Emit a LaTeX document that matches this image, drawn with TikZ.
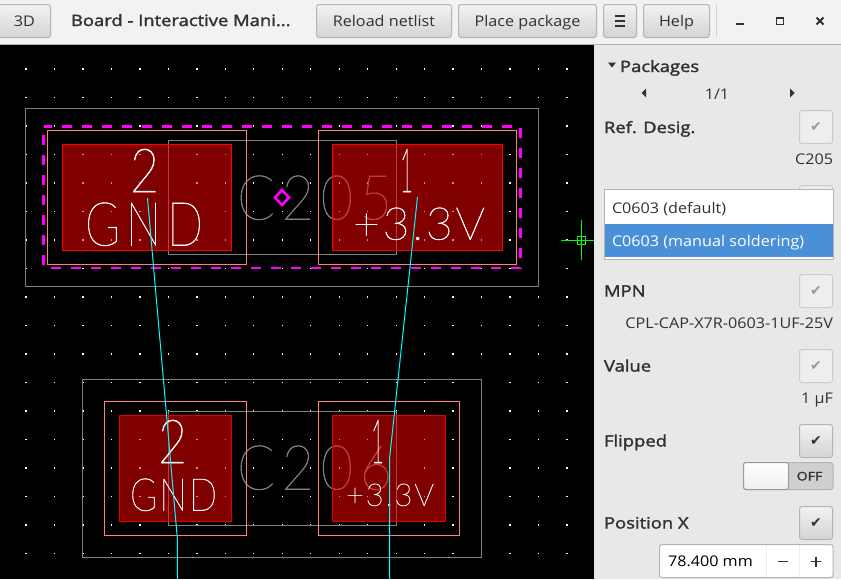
\documentclass[tikz,border=0pt]{standalone}
\usepackage{fontspec}
\setmainfont[FakeStretch=1.1]{Open Sans}
\newfontfamily\boldui[FakeBold=2,FakeStretch=1.18]{Open Sans}
\newfontfamily\thinfont[LetterSpace=12,FakeBold=.8]{Lato Hairline}
\newfontfamily\thinfontb[LetterSpace=6,FakeBold=1.1]{Lato Hairline}
\newfontfamily\thinfontc[FakeBold=1.4]{Lato Hairline}
\newfontfamily\symfont{DejaVu Sans}
\definecolor{ink}{HTML}{2E3436}
\definecolor{panelbg}{HTML}{E8E8E7}
\definecolor{barbg}{HTML}{F2F2F2}
\definecolor{btnline}{HTML}{B4B4B2}
\definecolor{padline}{HTML}{FF8080}
\definecolor{silk}{HTML}{808080}
\definecolor{sel}{HTML}{4A90D9}
\definecolor{purered}{HTML}{FF0000}
\definecolor{dimred}{HTML}{E00000}
\definecolor{puremag}{HTML}{FF00FF}
\definecolor{purecyan}{HTML}{00FFFF}
\definecolor{puregreen}{HTML}{00FF00}
\definecolor{C0}{HTML}{F2F2F1}
\definecolor{C1}{HTML}{D4D4D2}
\definecolor{C2}{HTML}{EEEEEE}
\definecolor{C3}{HTML}{CFCFCF}
\definecolor{C4}{HTML}{999999}
\tikzset{
  x=1pt,y=-1pt,
  every node/.style={inner sep=0pt,outer sep=0pt,text=ink},
  btn/.style={draw=btnline,line width=1pt,rounded corners=2.5pt,top color=C0,bottom color=C1},
  ui/.style={font=\fontsize{14.7}{17}\selectfont,anchor=base},
  uil/.style={font=\fontsize{14.7}{17}\selectfont,anchor=base west},
  uir/.style={font=\fontsize{14.7}{17}\selectfont,anchor=base east},
  hd/.style={font=\boldui\fontsize{15.6}{17}\selectfont,anchor=base west},
  offbtn/.style={draw=btnline!70!white,line width=1pt,rounded corners=2.5pt,fill=C2},
  chk/.style={font=\symfont\fontsize{14}{15}\selectfont},
  stroke/.style={anchor=south west,text=white},
  silktext/.style={anchor=south west,text=silk},
  outer/.style={draw=silk,line width=1pt},
  padout/.style={draw=padline,line width=1pt},
  padfill/.style={fill=purered,fill opacity=.5,draw=none},
  wire/.style={draw=purecyan,line width=1pt},
}
\newcommand{\strk}[3]{\resizebox{#1pt}{#2pt}{\thinfont #3}}
\newcommand{\strkb}[3]{\resizebox{#1pt}{#2pt}{\thinfontb #3}}
\newcommand{\strkc}[3]{\resizebox{#1pt}{#2pt}{\thinfontc #3}}
\begin{document}
\begin{tikzpicture}
\useasboundingbox (0,0) rectangle (841,579);
% backgrounds
\fill[black] (0,44) rectangle (594,579);
\fill[barbg] (0,0) rectangle (841,44);
\fill[panelbg] (594,45) rectangle (841,579);
\draw[color=btnline,line width=1.2pt] (0,44.2) -- (841,44.2);
% grid
\foreach \i in {0,...,19}{\foreach \j in {0,...,17}{
  \fill[white] ({26+\i*28.47-.6},{69+\j*28.5-.6}) rectangle ++(1.3,1.3);
}}
% grey layers
\node[outer,minimum width=513pt,minimum height=178pt,anchor=north west] (topouter) at (25.5,108.5) {};
\node[outer,minimum width=228pt,minimum height=114pt,anchor=north west] (topsilk) at (168.5,140.5) {};
\node[outer,minimum width=399pt,minimum height=177.5pt,anchor=north west] (botouter) at (82.5,379.5) {};
\node[outer,minimum width=228pt,minimum height=114pt,anchor=north west] (botsilk) at (168.5,411.5) {};
\node[silktext] (tref) at (237,220) {\strk{155}{44}{C205}};
\node[silktext] (bref) at (237,490) {\strk{155}{44}{C206}};
% pads
\fill[padfill] (62.5,144.5) rectangle (231.5,250.5);
\fill[padfill] (332.5,144.5) rectangle (502.7,250.5);
\fill[padfill] (119.5,415.5) rectangle (231.5,521.5);
\fill[padfill] (332.5,415.5) rectangle (445.7,521.5);
\draw[purered,line width=1pt] (62.5,144.5) rectangle (231.5,250.5);
\draw[purered,line width=1pt] (332.5,144.5) rectangle (502.7,250.5);
\draw[dimred,line width=1pt] (119.5,415.5) rectangle (231.5,521.5);
\draw[dimred,line width=1pt] (332.5,415.5) rectangle (445.7,521.5);
\draw[padout] (47.5,130.5) rectangle (246.5,264.5);
\draw[padout] (318.5,130.5) rectangle (516.5,264.5);
\draw[padout] (104.5,401.5) rectangle (246.5,535.5);
\draw[padout] (318.5,401.5) rectangle (459.7,535.5);
% stroke text
\node[stroke] (n2) at (130,192) {\strkc{29}{43}{2}};
\node[stroke] (gnd) at (85,246) {\strk{118}{43}{GND}};
\node[stroke] (n1) at (400,192) {\strkc{13}{43}{1}};
\node[stroke] (v33) at (353,240) {\strkb{132}{32}{+3.3V}};
\node[stroke] (bn2) at (158,463) {\strkc{29}{43}{2}};
\node[stroke] (bgnd) at (130,511) {\strkb{87}{32}{GND}};
\node[stroke] (bn1) at (371,463) {\strkc{13}{43}{1}};
\node[stroke] (bv33) at (346,506) {\strkb{88}{22}{+3.3V}};
% selection
\draw[puremag,line width=2.6pt,dash pattern=on 10pt off 10pt,dash phase=11.5pt] (43.5,126.5) rectangle (520.5,268);
\draw[puremag,line width=2.6pt] (282,190) -- (289,197.5) -- (282,205) -- (275,197.5) -- cycle;
% airwires
\coordinate (wa) at (147.5,198);
\coordinate (wb) at (177.3,538);
\coordinate (wc) at (177.3,579);
\coordinate (wd) at (417.5,197);
\coordinate (we) at (389.5,459);
\coordinate (wf) at (389.5,579);
\draw[wire] (wa) -- (wb) -- (wc);
\draw[wire] (wd) -- (we) -- (wf);
% crosshair
\draw[color=puregreen,line width=1pt] (561,240.5) -- (594,240.5) (581.5,220) -- (581.5,260);
\draw[color=puregreen,line width=1pt] (577.5,236.5) rectangle (585.5,244.5);
% toolbar
\node[btn,minimum width=53pt,minimum height=33pt,anchor=north west] (b3d) at (-2.5,4.5) {};
\node[ui] at (24.5,26) {3D};
\node[font=\boldui\fontsize{15.6}{17}\selectfont,anchor=base west] (title) at (71,26) {Board - Interactive Mani...};
\node[btn,minimum width=135pt,minimum height=33pt,anchor=north west] (breload) at (316.5,4.5) {};
\node[ui] at (breload.center |- 0,26) {Reload netlist};
\node[btn,minimum width=138pt,minimum height=33pt,anchor=north west] (bplace) at (458.5,4.5) {};
\node[ui] at (bplace.center |- 0,26) {Place package};
\node[btn,minimum width=33pt,minimum height=33pt,anchor=north west] (bmenu) at (603.5,4.5) {};
\draw[ink,line width=1.5pt] (615,16) -- (625,16) (615,21) -- (625,21) (615,26) -- (625,26);
\node[btn,minimum width=66pt,minimum height=33pt,anchor=north west] (bhelp) at (643.5,4.5) {};
\node[ui] at (bhelp.center |- 0,26) {Help};
\draw[color=btnline!60!white,line width=1pt] (716.5,4) -- (716.5,37);
\draw[ink,line width=1.8pt] (736,24) -- (744,24);
\draw[ink,line width=1.6pt] (776.5,18) rectangle (783.5,24.5);
\draw[ink,line width=1.8pt] (816.5,17.5) -- (823.5,24.5) (816.5,24.5) -- (823.5,17.5);
% panel
\fill[ink] (608,62.5) -- (616,62.5) -- (612,67.5) -- cycle;
\node[hd] (hpack) at (620,72) {Packages};
\fill[ink] (646,88.5) -- (646,97.5) -- (641.5,93) -- cycle;
\node[ui] (pg) at (717,99) {1/1};
\fill[ink] (790,88.5) -- (790,97.5) -- (794.5,93) -- cycle;
\node[hd] (href) at (604,133) {Ref. Desig.};
\node[offbtn,minimum width=33pt,minimum height=33pt,anchor=north west] (c1) at (799.5,110.5) {};
\node[chk,text=C4] at (c1) {✔};
\node[uir] (vref) at (833,164.5) {C205};
\node[offbtn,minimum width=33pt,minimum height=33pt,anchor=north west] (c2) at (799.5,185.5) {};
% dropdown
\node[draw=btnline,fill=white,line width=1pt,minimum width=229.5pt,minimum height=70pt,anchor=north west] (menu) at (604,189) {};
\fill[sel] (604.5,224) rectangle (833,257);
\node[uil] (m1) at (612,213.5) {C0603 (default)};
\node[uil,text=white] (m2) at (612,246.5) {C0603 (manual soldering)};
\node[hd] (hmpn) at (604,296.5) {MPN};
\node[offbtn,minimum width=33pt,minimum height=33pt,anchor=north west] (c3) at (799.5,274.5) {};
\node[chk,text=C4] at (c3) {✔};
\node[uir] (vmpn) at (833,328.5) {CPL-CAP-X7R-0603-1UF-25V};
\node[hd] (hval) at (604,371.5) {Value};
\node[offbtn,minimum width=33pt,minimum height=33pt,anchor=north west] (c4) at (799.5,349.5) {};
\node[chk,text=C4] at (c4) {✔};
\node[uir] (vval) at (833,403.5) {1 µF};
\node[hd] (hflip) at (604,446.5) {Flipped};
\node[btn,minimum width=33pt,minimum height=33pt,anchor=north west] (c5) at (799.5,424.5) {};
\node[chk,text=ink] at (c5) {✔};
\node[draw=btnline,fill=C3,line width=1pt,rounded corners=2.5pt,minimum width=89.5pt,minimum height=27pt,anchor=north west] (sw) at (743.5,462.5) {};
\node[draw=C4,line width=1pt,rounded corners=2.5pt,top color=white,bottom color=C2,minimum width=45pt,minimum height=27pt,anchor=north west] (knob) at (743.5,462.5) {};
\node[font=\boldui\fontsize{12}{14}\selectfont,anchor=base] (off) at (809.5,480.5) {OFF};
\node[hd] (hpos) at (604,528.5) {Position X};
\node[btn,minimum width=33pt,minimum height=33pt,anchor=north west] (c6) at (799.5,506.5) {};
\node[chk,text=ink] at (c6) {✔};
\node[draw=btnline,fill=white,line width=1pt,rounded corners=2.5pt,minimum width=173.5pt,minimum height=33pt,anchor=north west] (spin) at (659.5,544.5) {};
\draw[color=C2,line width=1pt] (766.5,545) -- (766.5,577) (799.5,545) -- (799.5,577);
\node[uil,text=black] (vpos) at (668,566.5) {78.400 mm};
\draw[ink,line width=1.6pt] (778,561.5) -- (788,561.5);
\draw[ink,line width=1.6pt] (811,561.5) -- (821,561.5) (816,556.5) -- (816,566.5);
\end{tikzpicture}
\end{document}
